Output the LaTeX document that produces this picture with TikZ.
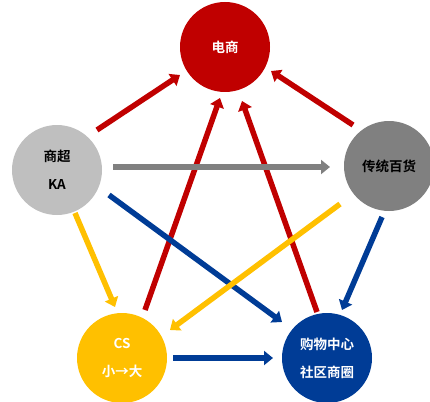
\documentclass[tikz,border=0pt]{standalone}
\usepackage{fontspec}
\newfontfamily\cjk{Noto Sans CJK SC}[BoldFont={* Bold}]
\usetikzlibrary{arrows.meta,calc}
\definecolor{cred}{HTML}{C00000}
\definecolor{cgrayl}{HTML}{BFBFBF}
\definecolor{cgrayd}{HTML}{808080}
\definecolor{cyel}{HTML}{FFC000}
\definecolor{cblue}{HTML}{003C96}
\tikzset{
  hub/.style={circle, minimum size=90pt, inner sep=0pt, font=\cjk\bfseries\fontsize{13.5}{16}\selectfont, align=center},
  link/.style={line width=5.5pt, -{Triangle[length=9pt,width=14pt]}},
}
\begin{document}
\begin{tikzpicture}[x=1pt,y=-1pt]
\useasboundingbox (0,0) rectangle (430,401);
\node[hub, fill=cred, text=white] (ds) at (225,47) {电商};
\node[hub, fill=cgrayl, text=black] (ka) at (57,170) {商超\\[12pt]KA};
\node[hub, fill=cgrayd, text=black] (bh) at (389,166) {传统百货};
\node[hub, fill=cyel, text=white] (cs) at (122,358) {CS\\[12pt]小→大};
\node[hub, fill=cblue, text=white] (gw) at (327,358) {购物中心\\[12pt]社区商圈};
% red
\draw[link, cred] ($(ka)+(40,-40)$) -- ($(ds)+(-45,28)$);
\draw[link, cred] ($(bh)+(-36,-41)$) -- ($(ds)+(46,24)$);
\draw[link, cred] ($(cs)+(23,-48)$) -- ($(ds)+(-5,51)$);
\draw[link, cred] ($(gw)+(-10,-46)$) -- ($(ds)+(17,54)$);
% gray
\draw[link, cgrayd] ($(ka)+(56,-3)$) -- ($(bh)+(-59,1)$);
% blue
\draw[link, cblue] ($(ka)+(52,25)$) -- ($(gw)+(-45,-36)$);
\draw[link, cblue] ($(bh)+(-7,51)$) -- ($(gw)+(15,-48)$);
\draw[link, cblue] ($(cs)+(51,0)$) -- ($(gw)+(-54,0)$);
% yellow
\draw[link, cyel] ($(ka)+(18,43)$) -- ($(cs)+(-7,-51)$);
\draw[link, cyel] ($(bh)+(-49,38)$) -- ($(cs)+(48,-28)$);
\end{tikzpicture}
\end{document}
